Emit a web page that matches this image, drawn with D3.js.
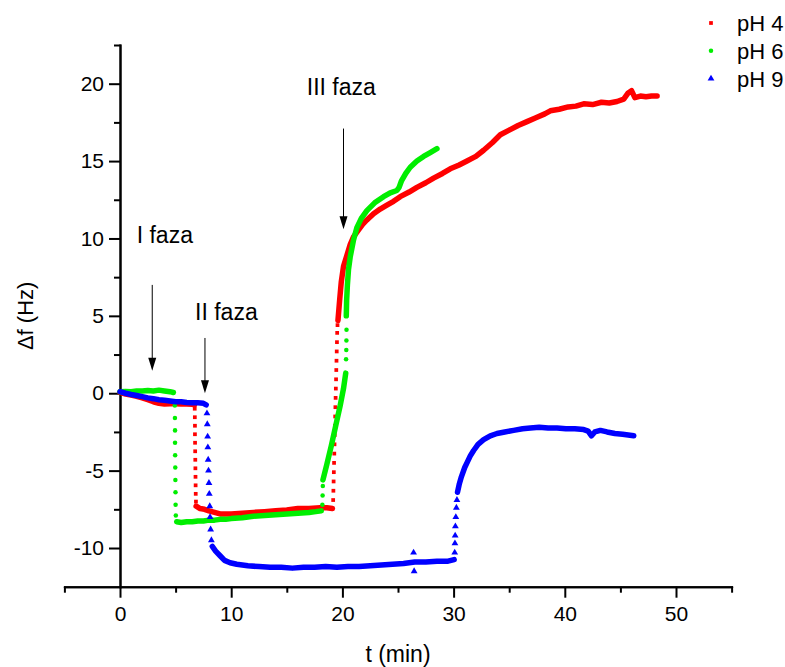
<!doctype html>
<head>
  <meta charset="utf-8">
  <style>
    body {
      margin: 0;
      background: #fff;
    }
    svg {
      display: block;
      font-family: Arial, "Liberation Sans", Helvetica, sans-serif;
    }
    .axis {
      font-family: Arial, "Liberation Sans", Helvetica, sans-serif;
    }
    .axis path, .axis line {
      stroke: #000;
      stroke-width: 2px;
    }
    .axis text {
      font-size: 21px;
      fill: #000;
    }
  </style>
<script src="https://cdnjs.cloudflare.com/ajax/libs/d3/7.8.5/d3.min.js"></script>
</head>
<body>
<script>

// t (min), delta f (Hz) -- null marks a break in the trace (fast jump)
var ph4Line = [
  [0,0.05],[0.5,-0.05],[1,-0.12],[1.5,-0.2],[2,-0.3],[2.5,-0.42],[3,-0.55],[3.5,-0.65],[4,-0.7],[4.5,-0.68],
  [5,-0.68],[5.5,-0.7],[6,-0.7],[6.5,-0.72],[6.7,-0.75], null,
  [6.85,-7.3],[7.2,-7.45],[7.6,-7.5],[8,-7.6],[8.5,-7.7],[9,-7.8],[9.5,-7.8],[10,-7.8],[11,-7.75],[12,-7.7],
  [13,-7.65],[14,-7.6],[15,-7.55],[16,-7.45],[17,-7.45],[18,-7.4],[18.6,-7.4],[19.1,-7.45], null,
  [19.6,4.7],[19.75,6.0],[19.9,7.2],[20.1,8.2],[20.4,8.9],[20.7,9.6],[21,10.1],[21.4,10.5],[21.8,10.9],[22.2,11.2],
  [22.8,11.6],[23.4,11.9],[24,12.15],[24.6,12.4],[25.2,12.7],[26,13.0],[26.7,13.3],[27.5,13.6],[28.2,13.9],[29,14.2],
  [29.7,14.5],[30.5,14.75],[31.2,15.0],[32,15.3],[32.7,15.7],[33.5,16.2],[34.2,16.7],[35,17.0],[35.8,17.3],[36.6,17.55],
  [37.4,17.8],[38.2,18.05],[38.7,18.25],[39.5,18.35],[40.3,18.5],[41,18.55],[41.7,18.7],[42.5,18.65],[43.3,18.8],[44,18.75],
  [44.7,18.85],[45.3,19.0],[45.7,19.4],[46,19.55],[46.3,19.1],[46.8,19.2],[47.3,19.15],[47.8,19.2],[48.3,19.2]
];
var ph4Dots = [
  [6.72,-1.0],[6.73,-1.55],[6.74,-2.1],[6.74,-2.65],[6.75,-3.2],[6.76,-3.75],[6.77,-4.3],[6.78,-4.85],[6.79,-5.4],
  [6.8,-5.95],[6.81,-6.5],[6.83,-7.0],
  [19.17,-6.9],[19.19,-6.3],[19.21,-5.7],[19.23,-5.1],[19.25,-4.5],[19.27,-3.9],[19.29,-3.3],[19.31,-2.7],[19.33,-2.1],
  [19.35,-1.5],[19.37,-0.9],[19.39,-0.3],[19.41,0.3],[19.43,0.9],[19.45,1.5],[19.47,2.1],[19.49,2.7],[19.51,3.3],
  [19.53,3.9],[19.56,4.4]
];

var ph6Line = [
  [0,0.1],[0.5,0.12],[1,0.1],[1.5,0.15],[2,0.15],[2.5,0.18],[3,0.15],[3.5,0.2],[4,0.15],[4.5,0.1],[4.8,0.05], null,
  [5.1,-8.3],[5.5,-8.35],[6,-8.3],[6.5,-8.3],[7,-8.25],[7.5,-8.25],[8,-8.2],[8.5,-8.2],[9,-8.15],[9.5,-8.15],
  [10,-8.1],[11,-8.05],[12,-7.95],[13,-7.9],[14,-7.85],[15,-7.8],[16,-7.75],[17,-7.7],[17.6,-7.65],[18.1,-7.6], null,
  [18.25,-5.6],[18.6,-4.6],[19,-3.4],[19.4,-2.1],[19.8,-0.8],[20.1,0.3],[20.3,1.3], null,
  [20.35,5.0],[20.38,6.0],[20.45,7.0],[20.55,8.0],[20.7,8.8],[21,9.9],[21.3,10.7],[21.7,11.3],[22.2,11.8],[22.9,12.3],
  [23.7,12.7],[24.3,12.95],[24.9,13.1],[25.1,13.3],[25.3,13.7],[25.7,14.2],[26.1,14.6],[26.7,15.0],[27.3,15.3],
  [27.9,15.55],[28.5,15.8]
];
var ph6Dots = [
  [4.93,-0.8],[4.94,-1.6],[4.95,-2.4],[4.95,-3.2],[4.96,-4.0],[4.97,-4.8],[4.98,-5.6],[4.99,-6.4],[5.0,-7.2],[5.02,-7.9],
  [18.2,-7.2],[18.22,-6.6],[18.24,-6.0],
  [20.33,2.2],[20.35,2.8],[20.36,3.4],[20.37,4.1]
];

var ph9Line = [
  [0,0.1],[0.5,0.0],[1,-0.08],[1.5,-0.15],[2,-0.22],[2.5,-0.3],[3,-0.35],[3.5,-0.42],[4,-0.45],[4.5,-0.5],
  [5,-0.55],[5.5,-0.55],[6,-0.6],[6.5,-0.62],[7,-0.62],[7.5,-0.65],[7.75,-0.75], null,
  [8.3,-9.9],[8.6,-10.2],[9,-10.5],[9.4,-10.8],[9.9,-10.95],[10.5,-11.05],[11.5,-11.15],[12.5,-11.2],[13.5,-11.25],
  [14.5,-11.25],[15.5,-11.3],[16.5,-11.25],[17.5,-11.25],[18.5,-11.2],[19.5,-11.25],[20.5,-11.2],[21.5,-11.2],
  [22.5,-11.15],[23.5,-11.1],[24.5,-11.05],[25.5,-11.0],[26.5,-10.9],[27.5,-10.9],[28.5,-10.85],[29.5,-10.85],[30.05,-10.75], null,
  [30.35,-6.4],[30.5,-5.9],[30.7,-5.4],[31,-4.8],[31.2,-4.5],[31.5,-4.05],[31.8,-3.7],[32.2,-3.3],[32.7,-3.0],[33.3,-2.75],
  [33.9,-2.6],[34.6,-2.5],[35.4,-2.4],[36.2,-2.3],[36.9,-2.25],[37.7,-2.2],[38.5,-2.25],[39.3,-2.25],[40.1,-2.3],
  [40.9,-2.3],[41.7,-2.35],[42.1,-2.45],[42.4,-2.75],[42.7,-2.5],[43.2,-2.4],[43.8,-2.5],[44.5,-2.6],[45.2,-2.65],
  [45.7,-2.7],[46.2,-2.75]
];
var ph9Dots = [
  [7.82,-1.3],[7.85,-2.0],[7.88,-2.8],[7.9,-3.5],[7.93,-4.3],[7.96,-5.0],[8.0,-5.8],[8.03,-6.5],[8.07,-7.3],[8.1,-8.0],
  [8.15,-8.8],[8.22,-9.5],
  [26.4,-10.3],[26.45,-11.5],
  [30.1,-10.3],[30.12,-9.7],[30.14,-9.2],[30.16,-8.6],[30.2,-8.0],[30.25,-7.4],[30.3,-6.9]
];

var seriesNames = ["pH 4", "pH 6", "pH 9"];
var seriesColors = ["#ff0000", "#00ee00", "#0000ff"];

var xTicks = [0, 10, 20, 30, 40, 50];
var xMinor = [-5, 5, 15, 25, 35, 45, 55];
var yTicks = [-10, -5, 0, 5, 10, 15, 20];
var yMinor = [-7.5, -2.5, 2.5, 7.5, 12.5, 17.5, 22.5];

// phase labels: text, t, f of text; arrow t, top f, tip f
var phases = [
  ["I faza", 1.5, 9.7, 2.9, 7.0, 1.45],
  ["II faza", 6.75, 4.7, 7.64, 3.57, 0.0],
  ["III faza", 16.8, 19.3, 20.1, 17.1, 10.6]
];

var W = 785, H = 667;
var svg = d3.select("body").append("svg")
  .attr("width", W)
  .attr("height", H);

var x = d3.scaleLinear().domain([-5, 55]).range([64.4, 731.6]);
var y = d3.scaleLinear().domain([-12.5, 22.5]).range([586.7, 45]);

// plain hyphen minus, like the original figure
var fmt = function(d) { return String(d); };

// minor ticks first
svg.append("g").attr("class", "axis")
  .attr("transform", "translate(0," + y(-12.5) + ")")
  .call(d3.axisBottom(x).tickValues(xMinor).tickSize(6).tickSizeOuter(0).tickFormat(""));
svg.append("g").attr("class", "axis")
  .attr("transform", "translate(" + x(0) + ",0)")
  .call(d3.axisLeft(y).tickValues(yMinor).tickSize(6).tickSizeOuter(0).tickFormat(""));

svg.append("g").attr("class", "axis")
  .attr("transform", "translate(0," + y(-12.5) + ")")
  .call(d3.axisBottom(x).tickValues(xTicks).tickSize(11).tickSizeOuter(0).tickPadding(8).tickFormat(fmt));
svg.append("g").attr("class", "axis")
  .attr("transform", "translate(" + x(0) + ",0)")
  .call(d3.axisLeft(y).tickValues(yTicks).tickSize(11).tickSizeOuter(0).tickPadding(5).tickFormat(fmt));

svg.selectAll(".axis .domain").attr("stroke-linecap", "square");

// axis titles
svg.append("text")
  .attr("x", (x(-5) + x(55)) / 2)
  .attr("y", 662)
  .attr("text-anchor", "middle")
  .style("font-size", "23px")
  .text("t (min)");

svg.append("text")
  .attr("transform", "translate(33," + (y(-12.5) + y(22.5)) / 2 + ") rotate(-90)")
  .attr("text-anchor", "middle")
  .style("font-size", "22px")
  .text("\u0394f (Hz)");

// traces
var line = d3.line()
  .defined(function(d) { return d !== null; })
  .x(function(d) { return x(d[0]); })
  .y(function(d) { return y(d[1]); });

var lines = [ph4Line, ph6Line, ph9Line];
var dots = [ph4Dots, ph6Dots, ph9Dots];
var symbols = [d3.symbolSquare, d3.symbolCircle, d3.symbolTriangle];
var symSizes = [14, 16, 20];

var plot = svg.append("g");

lines.forEach(function(ds, i) {
  plot.append("path")
    .datum(ds)
    .attr("d", line)
    .attr("fill", "none")
    .attr("stroke", seriesColors[i])
    .attr("stroke-width", 5.5)
    .attr("stroke-linejoin", "round")
    .attr("stroke-linecap", "round");

  plot.selectAll(".dot" + i)
    .data(dots[i]).enter()
    .append("path")
      .attr("class", "dot" + i)
      .attr("d", d3.symbol().type(symbols[i]).size(symSizes[i]))
      .attr("transform", function(d) { return "translate(" + x(d[0]) + "," + y(d[1]) + ")"; })
      .attr("fill", seriesColors[i]);
});

// phase annotations
var ann = svg.append("g");
ann.selectAll("text")
  .data(phases).enter()
  .append("text")
    .attr("x", function(d) { return x(d[1]); })
    .attr("y", function(d) { return y(d[2]); })
    .style("font-size", "23px")
    .text(function(d) { return d[0]; });

ann.selectAll("line")
  .data(phases).enter()
  .append("line")
    .attr("x1", function(d) { return x(d[3]); })
    .attr("x2", function(d) { return x(d[3]); })
    .attr("y1", function(d) { return y(d[4]); })
    .attr("y2", function(d) { return y(d[5]) - 10; })
    .attr("stroke", "#000")
    .attr("stroke-width", 1);

ann.selectAll(".head")
  .data(phases).enter()
  .append("path")
    .attr("class", "head")
    .attr("d", function(d) {
      var cx = x(d[3]), ty = y(d[5]);
      return "M" + (cx - 4) + "," + (ty - 13) + "L" + (cx + 4) + "," + (ty - 13) + "L" + cx + "," + ty + "Z";
    })
    .attr("fill", "#000");

// legend
var legend = svg.append("g");
seriesNames.forEach(function(name, i) {
  var ly = 23 + i * 27.8;
  legend.append("path")
    .attr("d", d3.symbol().type(symbols[i]).size(symSizes[i]))
    .attr("transform", "translate(711," + ly + ")")
    .attr("fill", seriesColors[i]);
  legend.append("text")
    .attr("x", 737)
    .attr("y", ly + 8)
    .style("font-size", "22px")
    .text(name);
});

</script>
</body>
